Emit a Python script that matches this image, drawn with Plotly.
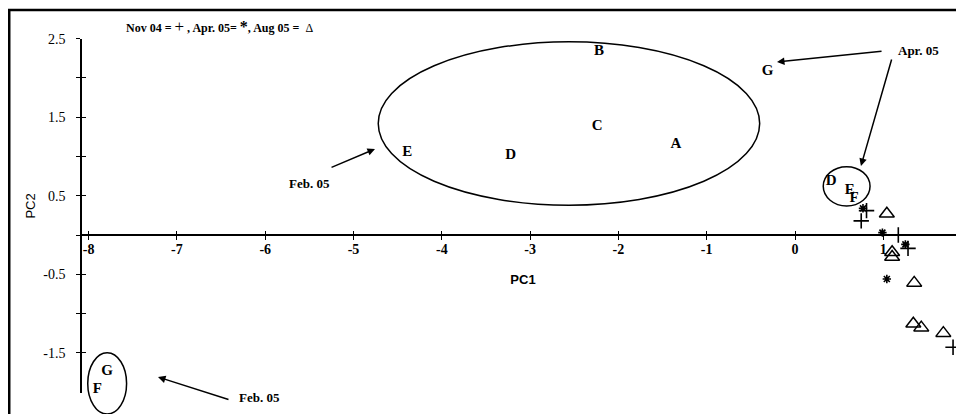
import plotly.graph_objects as go

# Feb. 05 samples (letters)
feb_lab = ["A", "B", "C", "D", "E", "F", "G"]
feb_x = [-1.35, -2.22, -2.24, -3.22, -4.39, -7.90, -7.79]
feb_y = [1.15, 2.34, 1.38, 1.01, 1.05, -1.96, -1.73]

# Apr. 05 samples (letters)
apr_lab = ["D", "E", "F", "G"]
apr_x = [0.41, 0.62, 0.67, -0.31]
apr_y = [0.69, 0.57, 0.47, 2.09]

# symbols: Nov 04 = +, Apr. 05 = *, Aug 05 = triangle
nov_x = [0.81, 0.75, 1.17, 1.28, 1.79]
nov_y = [0.31, 0.18, 0.00, -0.17, -1.43]
aprs_x = [0.77, 0.99, 1.25, 1.04]
aprs_y = [0.34, 0.03, -0.12, -0.56]
aug_x = [1.04, 1.10, 1.10, 1.35, 1.34, 1.43, 1.68]
aug_y = [0.27, -0.22, -0.28, -0.61, -1.13, -1.18, -1.25]

x_ticks = [-8, -7, -6, -5, -4, -3, -2, -1, 0, 1]
y_ticks = [-1.5, -1, -0.5, 0, 0.5, 1, 1.5, 2, 2.5]
y_text = ["-1.5", "", "-0.5", "", "0.5", "", "1.5", "", "2.5"]

XR = [-8.075, 1.914]
YR = [-2.28, 2.866]
YAX = [-2.01, 2.5]

def yfrac(v):
    return (v - YR[0]) / (YR[1] - YR[0])

SERIF = "Liberation Serif"
BLK = "black"

fig = go.Figure()

fig.add_trace(go.Scatter(x=feb_x + apr_x, y=feb_y + apr_y, mode="text",
                         text=feb_lab + apr_lab,
                         textfont=dict(family=SERIF, size=15, color=BLK, weight="bold"),
                         hoverinfo="skip", showlegend=False))
fig.add_trace(go.Scatter(x=nov_x, y=nov_y, mode="markers",
                         marker=dict(symbol="cross-thin-open", size=11, color=BLK,
                                     line=dict(color=BLK, width=1.6)),
                         showlegend=False))
fig.add_trace(go.Scatter(x=aprs_x, y=aprs_y, mode="markers",
                         marker=dict(symbol="asterisk-open", size=7, color=BLK,
                                     line=dict(color=BLK, width=1.6)),
                         showlegend=False))
fig.add_trace(go.Scatter(x=aug_x, y=aug_y, mode="markers",
                         marker=dict(symbol="triangle-up-open", size=13, color=BLK,
                                     line=dict(color=BLK, width=1.5)),
                         showlegend=False))
# empty traces so the extra axes get drawn
fig.add_trace(go.Scatter(x=[], y=[], xaxis="x", yaxis="y2", showlegend=False))
fig.add_trace(go.Scatter(x=[], y=[], xaxis="x", yaxis="y3", showlegend=False))
fig.add_trace(go.Scatter(x=[], y=[], xaxis="x2", yaxis="y", showlegend=False))

shapes = [
    # outer frame
    dict(type="rect", xref="paper", yref="paper", x0=-0.0825, x1=1.05, y0=-0.05, y1=1.0,
         line=dict(color=BLK, width=2.5)),
    dict(type="circle", xref="x", yref="y", x0=-4.72, x1=-0.40, y0=0.38, y1=2.46,
         line=dict(color=BLK, width=1.5)),
    dict(type="circle", xref="x", yref="y", x0=0.32, x1=0.85, y0=0.37, y1=0.87,
         line=dict(color=BLK, width=1.5)),
    dict(type="circle", xref="x", yref="y", x0=-8.01, x1=-7.57, y0=-2.28, y1=-1.50,
         line=dict(color=BLK, width=1.5)),
]

def arrow(x, y, ax, ay):
    return dict(x=x, y=y, ax=ax, ay=ay, xref="x", yref="y", axref="x", ayref="y",
                text="", showarrow=True, arrowhead=2, arrowsize=1, arrowwidth=1.5,
                arrowcolor=BLK, standoff=0, startstandoff=0)

def label(x, y, t):
    return dict(x=x, y=y, xref="x", yref="y", text="<b>" + t + "</b>", showarrow=False,
                font=dict(family=SERIF, size=13, color=BLK))

annotations = [
    arrow(-4.757, 1.096, -5.266, 0.854),
    label(-5.50, 0.65, "Feb. 05"),
    arrow(-0.204, 2.204, 0.997, 2.344),
    arrow(0.747, 0.879, 1.099, 2.255),
    label(1.40, 2.344, "Apr. 05"),
    arrow(-7.214, -1.809, -6.399, -2.102),
    label(-6.06, -2.064, "Feb. 05"),
    dict(x=-7.60, y=2.66, xref="x", yref="y", xanchor="left", showarrow=False,
         text="<b>Nov 04 = </b><span style='font-size:17px'>+</span><b> , Apr. 05= </b>"
              "<span style='font-size:16px'><b>*</b></span><b>, Aug 05 = </b> Δ",
         font=dict(family=SERIF, size=12, color=BLK)),
    dict(x=-0.069, y=yfrac(0.37), xref="paper", yref="paper", text="PC2", textangle=-90,
         showarrow=False, font=dict(family="Liberation Sans", size=13, color=BLK)),
]

# the page body adds an 8px offset, so margins are trimmed to compensate
fig.update_layout(
    width=964, height=414,
    margin=dict(l=74, r=8, t=2, b=8, autoexpand=False),
    paper_bgcolor="white", plot_bgcolor="rgba(0,0,0,0)",
    shapes=shapes, annotations=annotations,
    xaxis=dict(range=XR, anchor="free", position=yfrac(0), showgrid=False, zeroline=False,
               automargin=False, showline=True, linecolor=BLK, linewidth=1.5,
               ticks="outside", ticklen=4, tickwidth=1.3, tickcolor=BLK,
               tickvals=x_ticks, ticktext=[str(v) for v in x_ticks],
               ticklabelstandoff=-3,
               tickfont=dict(family=SERIF, size=14, color=BLK, weight="bold"),
               title=dict(text="<b>PC1</b>", standoff=18,
                          font=dict(family="Liberation Sans", size=13, color=BLK))),
    xaxis2=dict(range=XR, overlaying="x", anchor="free", position=yfrac(0), showgrid=False,
                automargin=False, zeroline=False, showline=False, ticks="inside", ticklen=4,
                tickwidth=1.3, tickcolor=BLK, tickvals=x_ticks, showticklabels=False),
    yaxis=dict(range=YR, visible=False, showgrid=False, zeroline=False, automargin=False),
    yaxis2=dict(range=YAX, domain=[yfrac(YAX[0]), yfrac(YAX[1])], anchor="x",
                automargin=False, showgrid=False, zeroline=False, showline=True,
                linecolor=BLK, linewidth=1.5,
                ticks="outside", ticklen=4, tickwidth=1.3, tickcolor=BLK,
                tickvals=y_ticks, ticktext=y_text, ticklabelstandoff=8,
                tickfont=dict(family=SERIF, size=14, color=BLK)),
    yaxis3=dict(range=YAX, domain=[yfrac(YAX[0]), yfrac(YAX[1])], anchor="x",
                automargin=False, showgrid=False, zeroline=False, showline=False,
                ticks="inside", ticklen=4, tickwidth=1.3, tickcolor=BLK,
                tickvals=y_ticks, showticklabels=False),
)

fig.write_html("out.html")
